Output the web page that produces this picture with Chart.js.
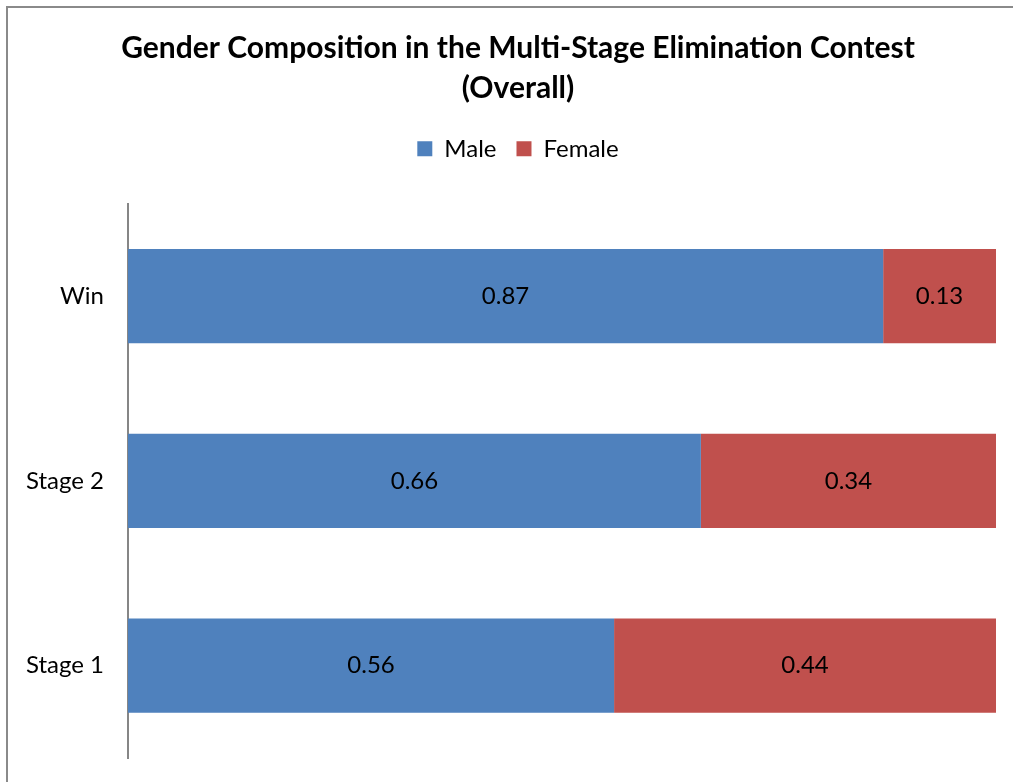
<!DOCTYPE html>
<html>
<head>
<meta charset="utf-8">
<script src="https://cdn.jsdelivr.net/npm/chart.js@4"></script>
<style>
  body { margin: 0; background: #fff; overflow: hidden; }
  .frame { position: absolute; left: 6px; top: 6px; width: 1030px; height: 800px; border: 2px solid #8a8a8a; }
  .wrap { position: absolute; left: 0; top: 0; width: 1013px; height: 782px; }
</style>
</head>
<body>
<div class="frame"></div>
<div class="wrap"><canvas id="chart"></canvas></div>
<script>
const stages = ["Win", "Stage 2", "Stage 1"];
const maleShare = [0.87, 0.66, 0.56];
const femaleShare = [0.13, 0.34, 0.44];

const fontFamily = "Lato, 'Open Sans', sans-serif";

// draw the value in the middle of every bar
const barValues = {
  id: "barValues",
  afterDatasetsDraw(chart) {
    const ctx = chart.ctx;
    ctx.save();
    ctx.font = `24px ${fontFamily}`;
    ctx.fillStyle = "#000";
    ctx.textAlign = "center";
    ctx.textBaseline = "middle";
    chart.data.datasets.forEach((ds, i) => {
      chart.getDatasetMeta(i).data.forEach((bar, j) => {
        const mid = (bar.x + bar.base) / 2;
        ctx.fillText(ds.data[j].toFixed(2), mid, bar.y);
      });
    });
    ctx.restore();
  },
};

// more room under the legend, and title + legend centred a bit to the right
const headerTweak = {
  id: "headerTweak",
  beforeInit(chart) {
    const fit = chart.legend.fit;
    chart.legend.fit = function () {
      fit.bind(chart.legend)();
      this.height += 33;
    };
  },
  afterLayout(chart) {
    [chart.titleBlock, chart.legend].forEach((box) => {
      box.left += 20;
      box.right += 20;
    });
  },
};

const chartCanvas = document.querySelector("#chart");
new Chart(chartCanvas, {
  type: "bar",
  plugins: [barValues, headerTweak],
  data: {
    labels: stages,
    datasets: [
      {
        label: "Male",
        data: maleShare,
        backgroundColor: "#4f81bd",
        barPercentage: 1,
        categoryPercentage: 0.51,
      },
      {
        label: "Female",
        data: femaleShare,
        backgroundColor: "#c0504d",
        barPercentage: 1,
        categoryPercentage: 0.51,
      },
    ],
  },
  options: {
    indexAxis: "y",
    responsive: true,
    maintainAspectRatio: false,
    animation: false,
    layout: {
      padding: { left: 0, right: 17, top: 28, bottom: 24 },
    },
    plugins: {
      title: {
        display: true,
        text: ["Gender Composition in the Multi-Stage Elimination Contest", "(Overall)"],
        color: "#000",
        font: { family: fontFamily, size: 30, weight: "bold", lineHeight: 1.33 },
        padding: { top: 0, bottom: 9 },
      },
      legend: {
        display: true,
        labels: {
          color: "#000",
          font: { family: fontFamily, size: 24 },
          boxWidth: 15,
          boxHeight: 15,
          padding: 20,
        },
      },
      tooltip: { enabled: false },
    },
    scales: {
      x: {
        stacked: true,
        min: 0,
        max: 1,
        display: false,
      },
      y: {
        stacked: true,
        grid: { display: false },
        border: { display: true, color: "#868686", width: 2 },
        ticks: {
          color: "#000",
          font: { family: fontFamily, size: 24 },
          padding: 16,
        },
        afterFit: (scale) => {
          scale.width = 128;
          scale.paddingTop = 0;
          scale.paddingBottom = 0;
        },
      },
    },
  },
});
</script>
</body>
</html>
